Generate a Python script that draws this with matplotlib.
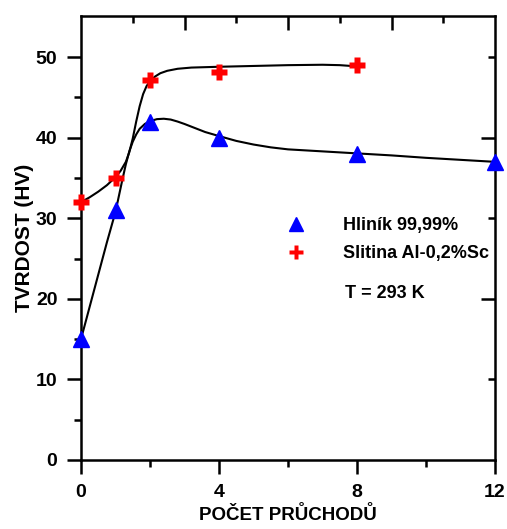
import matplotlib
matplotlib.use("Agg")
import matplotlib.pyplot as plt
from matplotlib.ticker import FixedLocator

plt.rcParams['font.family'] = ['Liberation Sans', 'DejaVu Sans']
plt.rcParams['font.weight'] = 'bold'

# measured points
passes = [0, 1, 2, 4, 8, 12]
hv_al = [15, 31, 42, 40, 38, 37]
passes_sc = [0, 1, 2, 4, 8]
hv_sc = [32, 35, 47.2, 48.1, 49]

# fitted curves
fit_al_x = [0, 0.25, 0.5, 0.75, 1.0, 1.1, 1.2, 1.3, 1.4, 1.5, 1.6, 1.7, 1.85, 2.0, 2.2,
            2.4, 2.6, 2.8, 3.0, 3.3, 3.6, 4.0, 4.5, 5.0, 5.5, 6.0, 7.0, 8.0, 9.0, 10.0, 11.0, 12.0]
fit_al_y = [15, 19, 23, 27, 30.8, 32.8, 34.8, 36.7, 38.3, 39.5, 40.4, 41.1, 41.7, 42.05, 42.3,
            42.35, 42.25, 42.0, 41.7, 41.2, 40.7, 40.2, 39.6, 39.15, 38.8, 38.55, 38.3, 38.05, 37.8, 37.5, 37.25, 37.0]
fit_sc_x = [0, 0.25, 0.5, 0.75, 1.0, 1.15, 1.3, 1.4, 1.5, 1.6, 1.7, 1.8, 1.9, 2.0, 2.15,
            2.3, 2.5, 2.8, 3.2, 4.0, 5.0, 6.0, 7.0, 7.5, 8.0]
fit_sc_y = [32, 32.6, 33.3, 34.1, 35.1, 35.9, 37.0, 38.2, 39.9, 42.0, 43.9, 45.4, 46.4, 47.0, 47.6,
            48.0, 48.3, 48.55, 48.7, 48.8, 48.9, 49.0, 49.05, 49.0, 48.85]

labels = ["Hliník 99,99%", "Slitina Al-0,2%Sc"]

fig = plt.figure(figsize=(5.07, 5.29), dpi=100)
ax = fig.add_axes([81 / 507, 1 - 460 / 529, 414 / 507, 444 / 529])

ax.plot(fit_al_x, fit_al_y, color='black', lw=1.5, zorder=2, solid_joinstyle='round')
ax.plot(fit_sc_x, fit_sc_y, color='black', lw=1.5, zorder=2, solid_joinstyle='round')
ax.plot(passes, hv_al, linestyle='none', marker='^', ms=12, color='blue',
        label=labels[0], clip_on=False, zorder=3)
ax.plot(passes_sc, hv_sc, linestyle='none', marker='P', ms=12, color='red',
        mec='none', label=labels[1], clip_on=False, zorder=3)

ax.set_xlim(0, 12)
ax.set_ylim(0, 55.1)

for s in ax.spines.values():
    s.set_linewidth(1.8)

ax.set_xticks([0, 4, 8, 12])
ax.set_xticks([2, 6, 10], minor=True)
ax.set_yticks([0, 10, 20, 30, 40, 50])
ax.set_yticks([5, 15, 25, 35, 45], minor=True)
ax.tick_params(which='major', direction='out', length=10, width=1.8, labelsize=14, pad=7)
ax.tick_params(which='minor', direction='out', length=5, width=1.8)

# extra axes on top and right with their own tick spacing
top = ax.secondary_xaxis('top')
top.xaxis.set_major_locator(FixedLocator([3, 6, 9]))
top.xaxis.set_minor_locator(FixedLocator([1.5, 4.5, 7.5, 10.5]))
top.tick_params(which='major', direction='in', length=10, width=1.8, labeltop=False)
top.tick_params(which='minor', direction='in', length=5, width=1.8)
top.spines['top'].set_visible(False)

right = ax.secondary_yaxis('right')
right.yaxis.set_major_locator(FixedLocator([20, 40]))
right.yaxis.set_minor_locator(FixedLocator([10, 30, 50]))
right.tick_params(which='major', direction='in', length=10, width=1.8, labelright=False)
right.tick_params(which='minor', direction='in', length=5, width=1.8)
right.spines['right'].set_visible(False)

ax.set_xlabel("POČET PRŮCHODŮ", fontsize=13.5, fontweight='bold', labelpad=4)
ax.set_ylabel("TVRDOST (HV)", fontsize=15, fontweight='bold', labelpad=1)

ax.legend(loc='upper left', bbox_to_anchor=(0.4976, 0.547), frameon=False,
          fontsize=13, markerscale=0.8, handlelength=1, handletextpad=2.1,
          labelspacing=0.6, borderpad=0, borderaxespad=0)
ax.text(0.638, 0.376, "T = 293 K", transform=ax.transAxes, fontsize=13,
        fontweight='bold', va='center', ha='left')

fig.savefig("out.png", dpi=100)
